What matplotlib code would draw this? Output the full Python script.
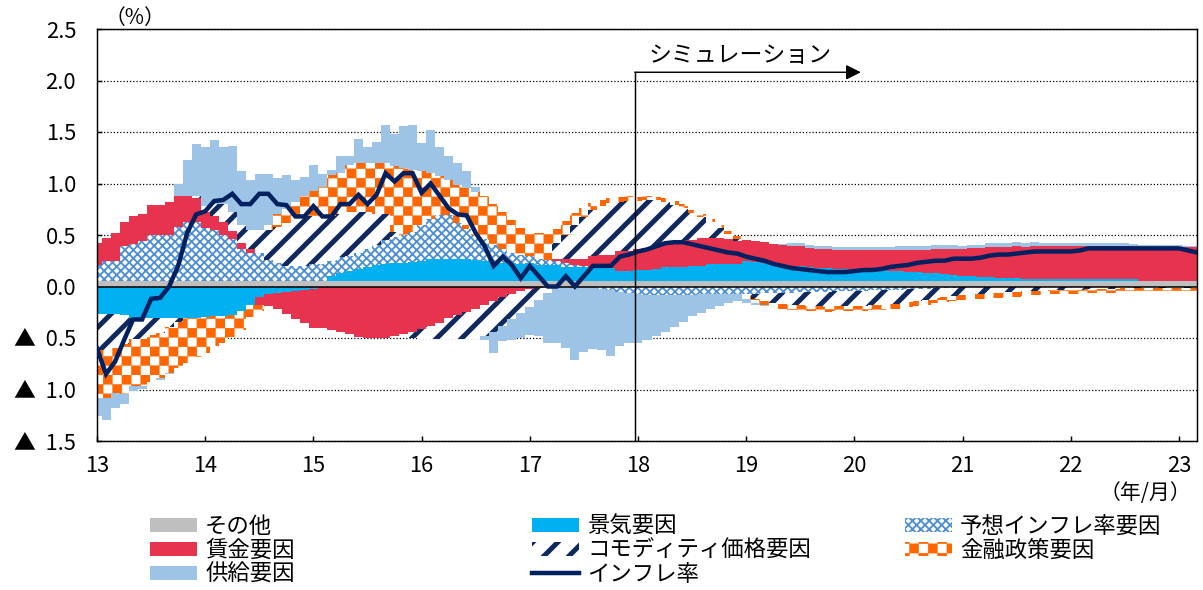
import numpy as np
import pandas as pd
import matplotlib
matplotlib.use('Agg')
import matplotlib.pyplot as plt
import matplotlib.hatch as mhatch
from matplotlib.path import Path

# ---- data (monthly, 2013/01 - 2023/03, % points) ---------------------------
other = [
    0.05, 0.05, 0.05, 0.05, 0.05, 0.05, 0.05, 0.05, 0.05, 0.05, 0.05, 0.05,
    0.05, 0.05, 0.05, 0.05, 0.05, 0.05, 0.05, 0.05, 0.05, 0.05, 0.05, 0.05,
    0.05, 0.05, 0.05, 0.05, 0.05, 0.05, 0.05, 0.05, 0.05, 0.05, 0.05, 0.05,
    0.05, 0.05, 0.05, 0.05, 0.05, 0.05, 0.05, 0.05, 0.05, 0.05, 0.05, 0.05,
    0.05, 0.05, 0.05, 0.05, 0.05, 0.05, 0.05, 0.05, 0.05, 0.05, 0.05, 0.05,
    0.05, 0.05, 0.05, 0.05, 0.05, 0.05, 0.05, 0.05, 0.05, 0.05, 0.05, 0.05,
    0.05, 0.05, 0.05, 0.05, 0.05, 0.05, 0.05, 0.05, 0.05, 0.05, 0.05, 0.05,
    0.05, 0.05, 0.05, 0.05, 0.05, 0.05, 0.05, 0.05, 0.05, 0.05, 0.05, 0.05,
    0.05, 0.05, 0.05, 0.05, 0.05, 0.05, 0.05, 0.05, 0.05, 0.05, 0.05, 0.05,
    0.05, 0.05, 0.05, 0.05, 0.05, 0.05, 0.05, 0.05, 0.05, 0.05, 0.05, 0.05,
    0.05, 0.05, 0.05,
]
business = [
    -0.27, -0.27, -0.27, -0.28, -0.31, -0.31, -0.31, -0.31, -0.31, -0.31, -0.31, -0.31,
    -0.30, -0.29, -0.29, -0.28, -0.24, -0.18, -0.10, -0.07, -0.06, -0.05, -0.04, -0.03,
    -0.02, 0.00, 0.05, 0.08, 0.10, 0.12, 0.14, 0.16, 0.17, 0.18, 0.18, 0.19,
    0.20, 0.22, 0.22, 0.22, 0.22, 0.22, 0.21, 0.20, 0.19, 0.18, 0.18, 0.17,
    0.18, 0.16, 0.16, 0.16, 0.14, 0.14, 0.14, 0.14, 0.14, 0.13, 0.10, 0.10,
    0.11, 0.11, 0.12, 0.14, 0.14, 0.14, 0.15, 0.15, 0.17, 0.17, 0.17, 0.17,
    0.20, 0.19, 0.18, 0.17, 0.16, 0.15, 0.15, 0.14, 0.13, 0.13, 0.12, 0.12,
    0.12, 0.11, 0.11, 0.11, 0.10, 0.10, 0.09, 0.09, 0.08, 0.08, 0.07, 0.06,
    0.05, 0.05, 0.04, 0.04, 0.03, 0.03, 0.03, 0.02, 0.02, 0.02, 0.02, 0.02,
    0.02, 0.02, 0.02, 0.02, 0.02, 0.02, 0.02, 0.02, 0.00, 0.00, 0.00, 0.00,
    0.00, 0.00, 0.00,
]
expected = [
    0.16, 0.20, 0.20, 0.34, 0.36, 0.39, 0.45, 0.45, 0.45, 0.53, 0.58, 0.58,
    0.52, 0.50, 0.45, 0.41, 0.31, 0.28, 0.28, 0.21, 0.18, 0.15, 0.15, 0.15,
    0.17, 0.17, 0.15, 0.16, 0.15, 0.16, 0.17, 0.19, 0.23, 0.25, 0.27, 0.29,
    0.35, 0.39, 0.42, 0.42, 0.35, 0.29, 0.24, 0.21, 0.16, 0.13, 0.10, 0.09,
    0.07, 0.06, 0.05, 0.04, 0.04, 0.02, 0.01, 0.00, -0.02, -0.03, -0.05, -0.06,
    -0.07, -0.08, -0.08, -0.08, -0.08, -0.08, -0.08, -0.07, -0.07, -0.07, -0.07, -0.07,
    -0.07, -0.07, -0.06, -0.06, -0.06, -0.06, -0.05, -0.05, -0.05, -0.05, -0.04, -0.04,
    -0.04, -0.04, -0.03, -0.03, -0.03, -0.03, -0.02, -0.02, -0.02, -0.01, -0.01, -0.01,
    0.00, 0.00, 0.00, 0.00, 0.00, 0.00, 0.00, 0.00, 0.00, 0.00, 0.00, 0.00,
    0.00, 0.00, 0.00, 0.00, 0.00, 0.00, 0.00, 0.00, 0.00, 0.00, 0.00, 0.00,
    0.00, 0.00, 0.00,
]
wage = [
    0.21, 0.22, 0.27, 0.24, 0.27, 0.26, 0.29, 0.29, 0.32, 0.30, 0.25, 0.23,
    0.15, 0.13, 0.13, 0.08, 0.06, 0.03, -0.08, -0.12, -0.16, -0.22, -0.28, -0.32,
    -0.38, -0.40, -0.42, -0.44, -0.46, -0.49, -0.50, -0.50, -0.50, -0.48, -0.46, -0.44,
    -0.41, -0.38, -0.35, -0.31, -0.28, -0.25, -0.22, -0.18, -0.14, -0.10, -0.07, -0.04,
    -0.02, -0.01, 0.00, 0.02, 0.04, 0.06, 0.07, 0.11, 0.12, 0.13, 0.19, 0.19,
    0.20, 0.21, 0.22, 0.23, 0.23, 0.26, 0.25, 0.27, 0.25, 0.25, 0.24, 0.22,
    0.20, 0.20, 0.20, 0.19, 0.19, 0.19, 0.19, 0.18, 0.18, 0.18, 0.18, 0.18,
    0.18, 0.19, 0.19, 0.19, 0.20, 0.20, 0.21, 0.21, 0.22, 0.23, 0.24, 0.25,
    0.26, 0.27, 0.28, 0.29, 0.30, 0.30, 0.31, 0.31, 0.32, 0.32, 0.32, 0.32,
    0.32, 0.32, 0.32, 0.32, 0.32, 0.32, 0.32, 0.32, 0.33, 0.33, 0.33, 0.33,
    0.33, 0.33, 0.33,
]
commodity = [
    -0.35, -0.35, -0.33, -0.28, -0.20, -0.20, -0.16, -0.14, -0.08, -0.03, 0.00, 0.02,
    0.06, 0.12, 0.17, 0.18, 0.18, 0.19, 0.22, 0.29, 0.35, 0.42, 0.45, 0.48,
    0.46, 0.46, 0.43, 0.41, 0.42, 0.39, 0.36, 0.30, 0.25, 0.05, -0.03, -0.06,
    -0.10, -0.13, -0.16, -0.20, -0.23, -0.26, -0.29, -0.30, -0.30, -0.28, -0.25, -0.22,
    -0.18, -0.12, -0.06, 0.15, 0.23, 0.33, 0.40, 0.44, 0.47, 0.50, 0.48, 0.49,
    0.47, 0.47, 0.45, 0.40, 0.37, 0.31, 0.26, 0.20, 0.16, 0.10, 0.05, 0.02,
    -0.02, -0.05, -0.08, -0.10, -0.11, -0.12, -0.13, -0.14, -0.14, -0.15, -0.15, -0.15,
    -0.15, -0.15, -0.15, -0.15, -0.14, -0.14, -0.13, -0.12, -0.11, -0.10, -0.09, -0.08,
    -0.08, -0.07, -0.07, -0.06, -0.06, -0.05, -0.05, -0.04, -0.04, -0.04, -0.03, -0.03,
    -0.03, -0.03, -0.02, -0.02, -0.02, -0.02, -0.01, -0.01, -0.01, -0.01, -0.01, -0.01,
    -0.01, -0.01, -0.01,
]
monetary = [
    -0.46, -0.46, -0.43, -0.48, -0.46, -0.46, -0.46, -0.44, -0.45, -0.45, -0.43, -0.37,
    -0.35, -0.29, -0.26, -0.21, -0.18, -0.12, -0.06, 0.05, 0.12, 0.13, 0.17, 0.20,
    0.25, 0.29, 0.40, 0.40, 0.46, 0.48, 0.48, 0.50, 0.50, 0.64, 0.65, 0.60,
    0.52, 0.44, 0.38, 0.34, 0.37, 0.40, 0.42, 0.42, 0.40, 0.36, 0.32, 0.26,
    0.25, 0.25, 0.26, 0.14, 0.14, 0.11, 0.09, 0.07, 0.06, 0.05, 0.05, 0.05,
    0.04, 0.04, 0.03, 0.04, 0.04, 0.04, 0.03, 0.03, 0.03, 0.03, 0.03, 0.03,
    -0.03, -0.04, -0.04, -0.05, -0.05, -0.05, -0.05, -0.05, -0.05, -0.05, -0.05, -0.05,
    -0.05, -0.05, -0.05, -0.05, -0.05, -0.05, -0.05, -0.05, -0.05, -0.05, -0.05, -0.05,
    -0.05, -0.05, -0.05, -0.05, -0.05, -0.05, -0.05, -0.05, -0.04, -0.04, -0.04, -0.04,
    -0.04, -0.04, -0.04, -0.04, -0.04, -0.04, -0.03, -0.03, -0.03, -0.03, -0.03, -0.03,
    -0.03, -0.03, -0.03,
]
supply = [
    -0.18, -0.22, -0.15, -0.10, -0.04, -0.03, 0.00, -0.02, -0.01, 0.12, 0.35, 0.50,
    0.57, 0.62, 0.55, 0.64, 0.52, 0.48, 0.54, 0.49, 0.35, 0.33, 0.21, 0.18,
    0.25, 0.12, 0.05, 0.17, 0.09, 0.23, 0.15, 0.20, 0.37, 0.31, 0.41, 0.44,
    0.27, 0.42, 0.28, 0.24, 0.21, 0.16, 0.05, -0.04, -0.21, -0.15, -0.20, -0.24,
    -0.27, -0.35, -0.49, -0.55, -0.60, -0.71, -0.64, -0.61, -0.60, -0.64, -0.53, -0.49,
    -0.48, -0.44, -0.40, -0.36, -0.31, -0.26, -0.21, -0.19, -0.15, -0.12, -0.09, -0.07,
    -0.04, -0.02, -0.01, 0.00, 0.01, 0.03, 0.03, 0.03, 0.03, 0.03, 0.03, 0.03,
    0.03, 0.03, 0.03, 0.03, 0.03, 0.04, 0.04, 0.04, 0.04, 0.04, 0.04, 0.04,
    0.03, 0.03, 0.03, 0.04, 0.04, 0.04, 0.04, 0.04, 0.04, 0.03, 0.03, 0.03,
    0.03, 0.03, 0.03, 0.03, 0.03, 0.03, 0.03, 0.02, 0.02, 0.02, 0.02, 0.02,
    0.02, 0.01, 0.01,
]
inflation = [
    -0.60, -0.85, -0.73, -0.52, -0.32, -0.32, -0.12, -0.11, 0.00, 0.20, 0.52, 0.70,
    0.73, 0.83, 0.84, 0.90, 0.80, 0.80, 0.90, 0.90, 0.80, 0.79, 0.68, 0.68,
    0.78, 0.68, 0.68, 0.80, 0.80, 0.89, 0.80, 0.89, 1.10, 1.02, 1.10, 1.10,
    0.91, 1.00, 0.88, 0.76, 0.70, 0.69, 0.52, 0.39, 0.20, 0.29, 0.21, 0.08,
    0.20, 0.10, 0.00, 0.00, 0.10, 0.00, 0.10, 0.20, 0.20, 0.20, 0.29, 0.31,
    0.34, 0.36, 0.39, 0.42, 0.43, 0.43, 0.41, 0.39, 0.37, 0.35, 0.33, 0.32,
    0.29, 0.27, 0.25, 0.22, 0.20, 0.18, 0.17, 0.16, 0.15, 0.14, 0.14, 0.14,
    0.15, 0.16, 0.16, 0.17, 0.19, 0.20, 0.21, 0.23, 0.24, 0.25, 0.25, 0.27,
    0.27, 0.27, 0.28, 0.30, 0.31, 0.31, 0.32, 0.33, 0.34, 0.34, 0.34, 0.34,
    0.34, 0.35, 0.37, 0.37, 0.37, 0.37, 0.37, 0.37, 0.37, 0.37, 0.37, 0.37,
    0.37, 0.35, 0.33,
]
year_ticks = [13, 14, 15, 16, 17, 18, 19, 20, 21, 22, 23]
y_ticks = [-1.5, -1.0, -0.5, 0.0, 0.5, 1.0, 1.5, 2.0, 2.5]
y_labels = ['▲  1.5', '▲  1.0', '▲  0.5', '0.0', '0.5', '1.0', '1.5', '2.0', '2.5']
sim_start = 17.97


# checkerboard hatch for the monetary policy bars ('O' letter reused)
class CheckerHatch(mhatch.HatchPatternBase):
    def __init__(self, hatch, density):
        self.num_cells = hatch.count('O') * 8
        self.num_vertices = self.num_cells ** 2 // 2 * 5

    def set_vertices_and_codes(self, vertices, codes):
        step = 1.0 / self.num_cells
        square = np.array([[0, 0], [1, 0], [1, 1], [0, 1], [0, 0]]) * step
        sq_codes = [Path.MOVETO, Path.LINETO, Path.LINETO, Path.LINETO, Path.CLOSEPOLY]
        i = 0
        for row in range(self.num_cells):
            for col in range(self.num_cells):
                if (row + col) % 2:
                    continue
                vertices[i:i + 5] = square + [col * step, row * step]
                codes[i:i + 5] = sq_codes
                i += 5


mhatch._hatch_types = [t for t in mhatch._hatch_types
                       if t is not mhatch.LargeCircles] + [CheckerHatch]

plt.rcParams['font.family'] = ['Noto Sans CJK JP', 'DejaVu Sans']

W, H, DPI = 1203, 590, 75
fig = plt.figure(figsize=(W / DPI, H / DPI), dpi=DPI)
ax = fig.add_axes([97 / W, 1 - 441 / H, 1100 / W, 412 / H])

months = pd.period_range('2013-01', periods=len(inflation), freq='M')
x = np.asarray(months.year - 2000 + (months.month - 1) / 12, dtype=float)

series = [
    ('その他', other, dict(color='#BFBFBF'), None),
    ('景気要因', business, dict(color='#00B0F0'), None),
    ('予想インフレ率要因', expected,
     dict(facecolor='white', edgecolor='#4F8FD3', hatch='xxx'), 1.8),
    ('賃金要因', wage, dict(color='#E8334F'), None),
    ('コモディティ価格要因', commodity,
     dict(facecolor='white', edgecolor='#10295C', hatch='/'), 4.8),
    ('金融政策要因', monetary,
     dict(facecolor='white', edgecolor='#FF6600', hatch='O'), 0.3),
    ('供給要因', supply, dict(color='#9DC3E6'), None),
]

# stacked bars, positives and negatives stacked separately
pos_base = np.zeros(len(x))
neg_base = np.zeros(len(x))
hatch_lw = {}
for label, vals, style, hlw in series:
    vals = np.asarray(vals, dtype=float)
    bottom = np.where(vals >= 0, pos_base, neg_base)
    bars = ax.bar(x, vals, width=1 / 12, bottom=bottom, linewidth=0,
                  antialiased=False, label=label, zorder=2, **style)
    if hlw is not None:
        hatch_lw[label] = hlw
        for p in bars:
            p.set_hatch_linewidth(hlw)
    pos_base += np.clip(vals, 0, None)
    neg_base += np.clip(vals, None, 0)

ax.plot(x, inflation, color='#002060', linewidth=4.3, label='インフレ率',
        zorder=5, solid_joinstyle='miter')

ax.axhline(0, color='black', linewidth=1.5, zorder=4)

# simulation marker
ax.plot([sim_start, sim_start], [-1.5, 2.08], color='black', linewidth=1.4, zorder=6)
ax.annotate('', xy=(20.06, 2.08), xytext=(sim_start, 2.08),
            arrowprops=dict(arrowstyle='-|>,head_length=0.6,head_width=0.3',
                            color='black', lw=1.4, shrinkA=0, shrinkB=0,
                            mutation_scale=20), zorder=6)
ax.text(18.1, 2.24, 'シミュレーション', fontsize=22, va='center', ha='left')

ax.set_xlim(13, 13 + (len(x) - 1) / 12)
ax.set_ylim(-1.5, 2.5)
ax.set_xticks(year_ticks)
ax.set_xticklabels([str(t) for t in year_ticks])
ax.set_yticks(y_ticks)
ax.set_yticklabels(y_labels)
ax.tick_params(axis='both', direction='in', length=5, width=1.4, labelsize=21)
ax.tick_params(axis='y', pad=20)
ax.tick_params(axis='x', pad=13)
ax.tick_params(top=False, right=False)
for sp in ax.spines.values():
    sp.set_linewidth(1.4)

ax.set_axisbelow(True)
ax.yaxis.grid(True, linestyle=(0, (1, 1.6)), color='black', linewidth=1.2)

fig.text(135 / W, 1 - 18 / H, '（%）', fontsize=20, ha='center', va='center')
fig.text(1145 / W, 1 - 493 / H, '（年/月）', fontsize=20, ha='center', va='center')

# legend in three separate columns
handles, labels = ax.get_legend_handles_labels()
by_label = dict(zip(labels, handles))
columns = [
    (150, ['その他', '賃金要因', '供給要因']),
    (532, ['景気要因', 'コモディティ価格要因', 'インフレ率']),
    (905, ['予想インフレ率要因', '金融政策要因']),
]
for x_px, names in columns:
    leg = fig.legend([by_label[n] for n in names], names, loc='upper left',
                     bbox_to_anchor=(x_px / W, 1 - 515 / H), frameon=False,
                     fontsize=21.5, borderpad=0, borderaxespad=0,
                     handlelength=2.1, handleheight=0.62, handletextpad=0.36,
                     labelspacing=0.04)
    for h, n in zip(leg.legend_handles, names):
        if n in hatch_lw:
            h.set_hatch_linewidth(hatch_lw[n])

fig.savefig('out.png', dpi=DPI)
